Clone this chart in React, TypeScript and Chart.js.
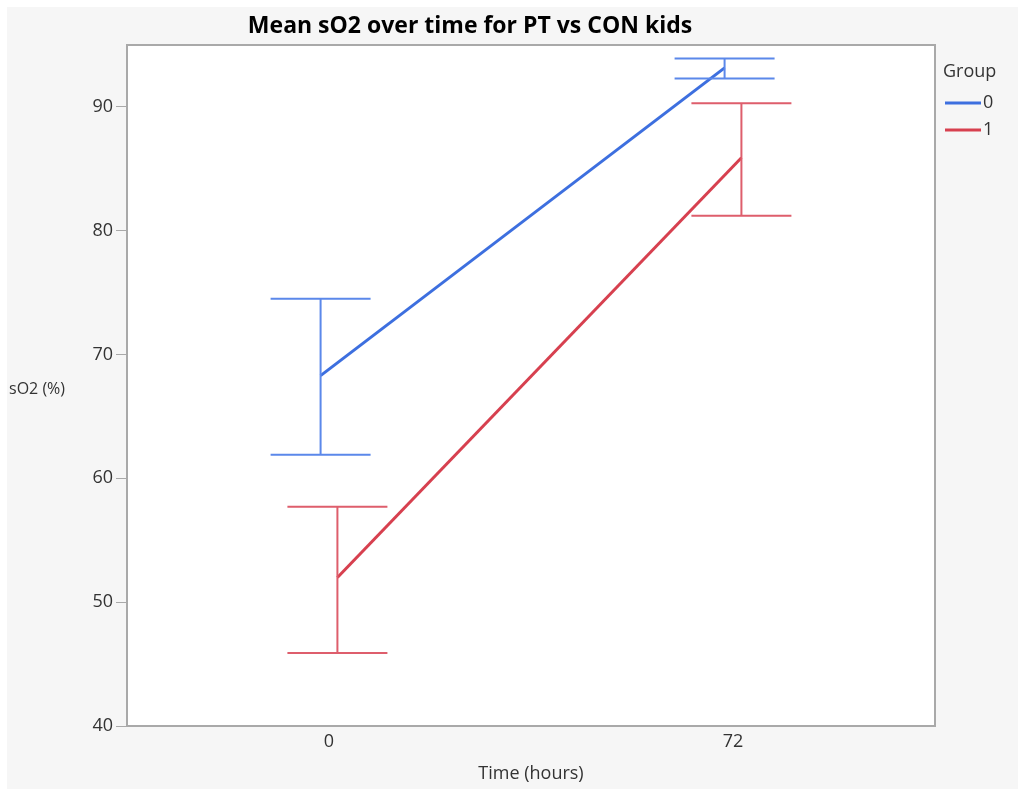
import React, { useEffect, useRef } from "react";
import { Chart, registerables } from "chart.js";

Chart.register(...registerables);

const categories = [0, 72];
const groups = ["0", "1"];
const groupOffsets = [-1.5, 1.5];
const meanGroup0 = [68.3, 93.15];
const meanGroup1 = [52.0, 85.9];
const upperGroup0 = [74.5, 93.9];
const lowerGroup0 = [61.9, 92.3];
const upperGroup1 = [57.7, 90.3];
const lowerGroup1 = [45.9, 81.2];
const yTicks = [40, 50, 60, 70, 80, 90];

const lineColors = ["#3d6fdf", "#d7404f"];
const barColors = ["#5b88ea", "#de5e6c"];
const FONT = "'Open Sans', 'Noto Sans', sans-serif";

const errorBarPlugin = {
  id: "errorBars",
  afterDatasetsDraw(chart: any) {
    const { ctx, scales } = chart;
    const xs = scales.x;
    const ys = scales.y;
    const sets = [
      { up: upperGroup0, lo: lowerGroup0, off: groupOffsets[0], color: barColors[0] },
      { up: upperGroup1, lo: lowerGroup1, off: groupOffsets[1], color: barColors[1] },
    ];
    ctx.save();
    ctx.lineWidth = 2;
    sets.forEach((s) => {
      ctx.strokeStyle = s.color;
      categories.forEach((c, i) => {
        const px = xs.getPixelForValue(c + s.off);
        const pu = ys.getPixelForValue(s.up[i]);
        const pl = ys.getPixelForValue(s.lo[i]);
        ctx.beginPath();
        ctx.moveTo(px, pu);
        ctx.lineTo(px, pl);
        ctx.moveTo(px - 50, pu);
        ctx.lineTo(px + 50, pu);
        ctx.moveTo(px - 50, pl);
        ctx.lineTo(px + 50, pl);
        ctx.stroke();
      });
    });
    ctx.restore();
  },
};

const decorPlugin = {
  id: "decor",
  beforeDraw(chart: any) {
    const { ctx, width, height, chartArea } = chart;
    ctx.save();
    ctx.fillStyle = "#ffffff";
    ctx.fillRect(0, 0, width, height);
    ctx.fillStyle = "#f6f6f6";
    ctx.fillRect(7, 7, width - 7, height - 7);
    ctx.fillStyle = "#ffffff";
    ctx.fillRect(chartArea.left, chartArea.top, chartArea.right - chartArea.left, chartArea.bottom - chartArea.top);
    ctx.restore();
  },
  afterDraw(chart: any) {
    const { ctx, chartArea } = chart;
    ctx.save();
    ctx.strokeStyle = "#a9a9a9";
    ctx.lineWidth = 2;
    ctx.strokeRect(chartArea.left, chartArea.top, chartArea.right - chartArea.left, chartArea.bottom - chartArea.top);
    // title
    ctx.fillStyle = "#000000";
    ctx.font = `bold 23px ${FONT}`;
    ctx.textAlign = "center";
    ctx.textBaseline = "middle";
    ctx.fillText("Mean sO2 over time for PT vs CON kids", 470, 26);
    // y title
    ctx.fillStyle = "#333333";
    ctx.font = `16px ${FONT}`;
    ctx.textAlign = "left";
    ctx.fillText("sO2 (%)", 9, 389);
    // legend
    ctx.font = `18px ${FONT}`;
    ctx.fillText("Group", 943, 72);
    groups.forEach((g, i) => {
      const y = 103 + i * 27;
      ctx.strokeStyle = lineColors[i];
      ctx.lineWidth = 3;
      ctx.beginPath();
      ctx.moveTo(945, y);
      ctx.lineTo(981, y);
      ctx.stroke();
      ctx.fillStyle = "#333333";
      ctx.fillText(g, 983, y);
    });
    ctx.restore();
  },
};

export default function App() {
  const ref = useRef<HTMLCanvasElement>(null);
  useEffect(() => {
    document.body.style.margin = "0";
    const chart = new Chart(ref.current!, {
      type: "line",
      data: {
        datasets: [
          {
            label: groups[0],
            data: categories.map((c, i) => ({ x: c + groupOffsets[0], y: meanGroup0[i] })),
            borderColor: lineColors[0],
            borderWidth: 3,
            pointRadius: 0,
          },
          {
            label: groups[1],
            data: categories.map((c, i) => ({ x: c + groupOffsets[1], y: meanGroup1[i] })),
            borderColor: lineColors[1],
            borderWidth: 3,
            pointRadius: 0,
          },
        ],
      },
      options: {
        animation: false,
        responsive: false,
        layout: { padding: { left: 0, top: 45, right: 83, bottom: 0 } },
        plugins: { legend: { display: false }, title: { display: false }, tooltip: { enabled: false } },
        scales: {
          x: {
            type: "linear",
            min: -36,
            max: 108,
            grid: { display: false, drawTicks: false },
            border: { display: false },
            afterBuildTicks: (s: any) => {
              s.ticks = categories.map((v) => ({ value: v }));
            },
            afterFit: (s: any) => {
              s.height = 63;
            },
            ticks: {
              color: "#333333",
              font: { family: FONT, size: 18 },
              padding: 5,
              callback: (v: any) => String(v),
            },
            title: {
              display: true,
              text: "Time (hours)",
              color: "#333333",
              font: { family: FONT, size: 18 },
              padding: { top: 2 },
            },
          },
          y: {
            min: 40,
            max: 95,
            grid: { display: true, drawOnChartArea: false, drawTicks: true, tickLength: 11, color: "#a9a9a9", lineWidth: 1 },
            border: { display: false },
            afterBuildTicks: (s: any) => {
              s.ticks = yTicks.map((v) => ({ value: v }));
            },
            afterFit: (s: any) => {
              s.width = 127;
            },
            ticks: {
              color: "#333333",
              font: { family: FONT, size: 18 },
              padding: 3,
            },
          },
        },
      },
      plugins: [decorPlugin, errorBarPlugin],
    } as any);
    return () => chart.destroy();
  }, []);
  return <canvas ref={ref} width={1018} height={789} style={{ display: "block" }} />;
}
